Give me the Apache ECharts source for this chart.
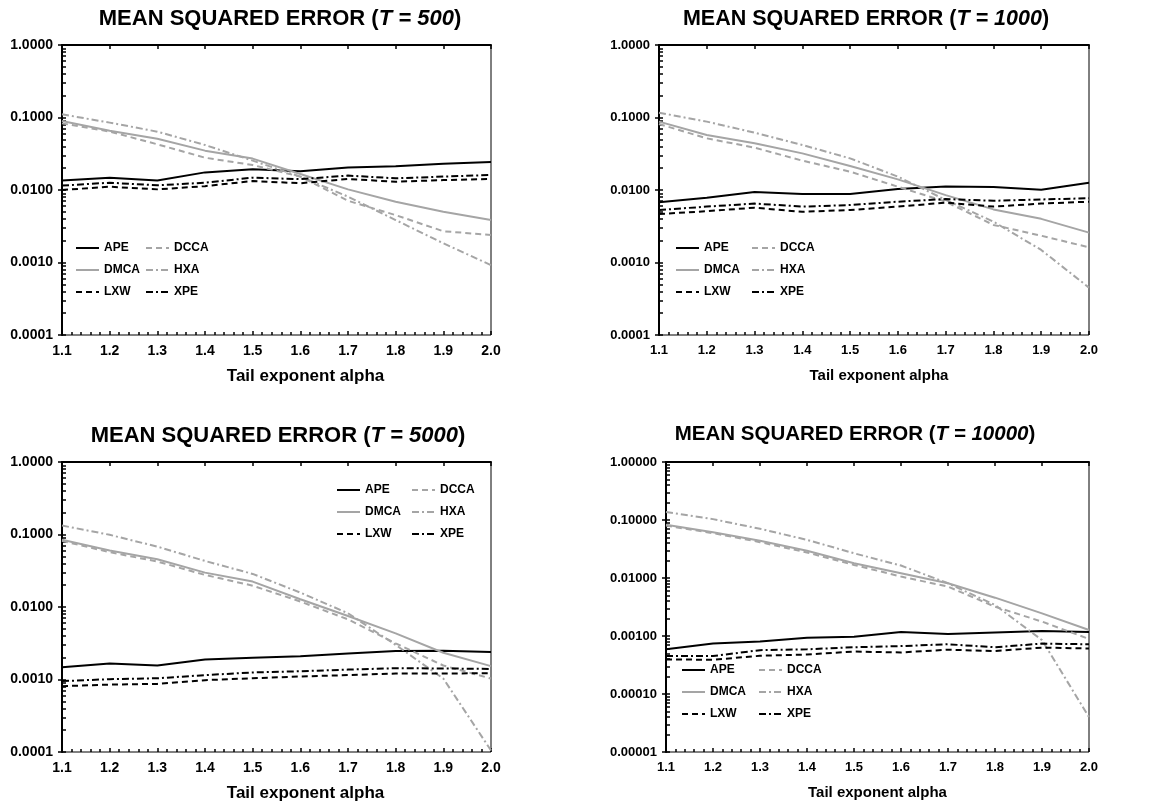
<!DOCTYPE html>
<html>
<head>
<meta charset="utf-8">
<script src="https://cdn.jsdelivr.net/npm/echarts@6/dist/echarts.min.js"></script>
<style>
  html, body { margin: 0; padding: 0; background: #fff; }
  #chart { width: 1159px; height: 805px; }
</style>
</head>
<body>
<div id="chart"></div>
<script>
// tail exponent alpha
const alpha = [1.1, 1.2, 1.3, 1.4, 1.5, 1.6, 1.7, 1.8, 1.9, 2.0];

// T = 500
const ape500  = [0.0135, 0.0148, 0.0135, 0.0175, 0.0193, 0.0181, 0.0205, 0.0212, 0.0231, 0.0243];
const dcca500 = [0.083, 0.064, 0.0427, 0.0279, 0.0221, 0.0153, 0.0071, 0.0045, 0.0027, 0.0024];
const dmca500 = [0.0895, 0.0658, 0.051, 0.0349, 0.0271, 0.0166, 0.0102, 0.0069, 0.0050, 0.00385];
const hxa500  = [0.1106, 0.085, 0.0638, 0.0418, 0.0254, 0.0153, 0.0081, 0.00385, 0.00184, 0.00092];
const lxw500  = [0.0100, 0.0111, 0.0102, 0.0113, 0.0133, 0.0124, 0.0142, 0.0130, 0.0137, 0.0142];
const xpe500  = [0.0115, 0.0126, 0.0116, 0.0126, 0.0148, 0.0141, 0.0158, 0.0145, 0.0153, 0.0161];

// T = 1000
const ape1000  = [0.00676, 0.0078, 0.0094, 0.0088, 0.0088, 0.0103, 0.0112, 0.0110, 0.0101, 0.0126];
const dcca1000 = [0.0813, 0.0516, 0.0384, 0.0254, 0.0179, 0.0111, 0.0069, 0.0033, 0.00234, 0.00162];
const dmca1000 = [0.0877, 0.0574, 0.044, 0.032, 0.0214, 0.014, 0.0085, 0.0054, 0.0040, 0.00258];
const hxa1000  = [0.1166, 0.0877, 0.0618, 0.0418, 0.0273, 0.0153, 0.0073, 0.00366, 0.00149, 0.00045];
const lxw1000  = [0.00467, 0.0051, 0.0057, 0.0050, 0.0053, 0.0059, 0.0067, 0.0059, 0.0065, 0.0069];
const xpe1000  = [0.0053, 0.0059, 0.0065, 0.0059, 0.0062, 0.0069, 0.0075, 0.0071, 0.0074, 0.0077];

// T = 5000
const ape5000  = [0.00147, 0.00166, 0.00156, 0.00189, 0.0020, 0.0021, 0.00229, 0.00247, 0.0025, 0.00239];
const dcca5000 = [0.0817, 0.057, 0.0424, 0.0277, 0.0197, 0.0119, 0.00675, 0.00315, 0.00156, 0.00103];
const dmca5000 = [0.0844, 0.060, 0.0456, 0.0298, 0.0224, 0.0128, 0.0075, 0.00433, 0.00234, 0.00153];
const hxa5000  = [0.133, 0.099, 0.068, 0.0432, 0.0286, 0.0158, 0.0082, 0.0030, 0.00103, 0.000105];
const lxw5000  = [0.00081, 0.00085, 0.00087, 0.00098, 0.00104, 0.0011, 0.00115, 0.00121, 0.00121, 0.00122];
const xpe5000  = [0.00095, 0.00101, 0.00104, 0.00115, 0.00125, 0.0013, 0.00137, 0.00143, 0.00142, 0.0014];

// T = 10000
const ape10000  = [0.00059, 0.00074, 0.0008, 0.00093, 0.00097, 0.00117, 0.00108, 0.00115, 0.00122, 0.00117];
const dcca10000 = [0.080, 0.0593, 0.0415, 0.0275, 0.0168, 0.0106, 0.0071, 0.0032, 0.00177, 0.00089];
const dmca10000 = [0.0826, 0.0617, 0.0437, 0.0294, 0.018, 0.0121, 0.0081, 0.00458, 0.00246, 0.00127];
const hxa10000  = [0.137, 0.1035, 0.0705, 0.0455, 0.0267, 0.0164, 0.0081, 0.00343, 0.00085, 0.00004];
const lxw10000  = [0.000394, 0.00039, 0.000456, 0.00048, 0.00054, 0.00052, 0.00058, 0.00055, 0.00063, 0.00061];
const xpe10000  = [0.00045, 0.00045, 0.00057, 0.00059, 0.00064, 0.00067, 0.00072, 0.00064, 0.00074, 0.00072];

const FONT = 'Arial, "Liberation Sans", sans-serif';
const GRAY = '#a5a5a5';
const DASH = [6, 4];
const DASHDOT = [7, 3, 2, 3];

const styles = {
  APE:  { color: '#000', type: 'solid' },
  DCCA: { color: GRAY, type: DASH },
  DMCA: { color: GRAY, type: 'solid' },
  HXA:  { color: GRAY, type: DASHDOT },
  LXW:  { color: '#000', type: DASH },
  XPE:  { color: '#000', type: DASHDOT }
};

const panels = [
  { T: '500', grid: { left: 62, top: 45, width: 429, height: 290 }, title: [275, 3, 22], decades: 4,
    legend: [75, 145, 242], namePad: 58, tick: 14, name: 17,
    data: { APE: ape500, DCCA: dcca500, DMCA: dmca500, HXA: hxa500, LXW: lxw500, XPE: xpe500 } },
  { T: '1000', grid: { left: 659, top: 45, width: 430, height: 290 }, title: [861, 3, 21.5], decades: 4,
    legend: [675, 751, 242], namePad: 10, tick: 13, name: 15,
    data: { APE: ape1000, DCCA: dcca1000, DMCA: dmca1000, HXA: hxa1000, LXW: lxw1000, XPE: xpe1000 } },
  { T: '5000', grid: { left: 62, top: 462, width: 429, height: 290 }, title: [273, 420, 22], decades: 4,
    legend: [336, 411, 484], namePad: 58, tick: 14, name: 17,
    data: { APE: ape5000, DCCA: dcca5000, DMCA: dmca5000, HXA: hxa5000, LXW: lxw5000, XPE: xpe5000 } },
  { T: '10000', grid: { left: 666, top: 462, width: 423, height: 290 }, title: [850, 419, 20.5], decades: 5,
    legend: [681, 758, 664], namePad: 0, tick: 13, name: 15,
    data: { APE: ape10000, DCCA: dcca10000, DMCA: dmca10000, HXA: hxa10000, LXW: lxw10000, XPE: xpe10000 } }
];

const option = {
  animation: false,
  backgroundColor: '#fff',
  textStyle: { fontFamily: FONT },
  title: [], grid: [], xAxis: [], yAxis: [], legend: [], series: []
};

panels.forEach((p, k) => {
  const digits = p.decades;
  const ts = p.title[2];
  option.title.push({
    text: '{b|MEAN SQUARED ERROR (}{i|T = ' + p.T + '}{b|)}',
    left: p.title[0], top: p.title[1], textAlign: 'center',
    textStyle: {
      rich: {
        b: { fontFamily: FONT, fontWeight: 'bold', fontSize: ts, color: '#000' },
        i: { fontFamily: FONT, fontWeight: 'bold', fontStyle: 'italic', fontSize: ts, color: '#000' }
      }
    }
  });
  option.grid.push(Object.assign({ show: true, borderColor: '#000', borderWidth: 1, backgroundColor: 'transparent' }, p.grid));

  // main x axis (labels + outside ticks)
  option.xAxis.push({
    type: 'value', gridIndex: k, min: 1.1, max: 2.0, interval: 0.1,
    name: 'Tail exponent alpha', nameLocation: 'middle', nameGap: 33,
    nameTextStyle: { fontFamily: FONT, fontWeight: 'bold', fontSize: p.name, color: '#000', padding: [0, 0, 0, p.namePad] },
    axisLine: { lineStyle: { color: '#000', width: 2 } },
    axisTick: { show: true, length: 4, lineStyle: { color: '#000', width: 1.5 } },
    axisLabel: { fontFamily: FONT, fontWeight: 'bold', fontSize: p.tick, color: '#000', margin: 9,
      formatter: v => v.toFixed(1) },
    splitLine: { show: false }
  });
  // helper x axis: inside ticks and minor ticks
  option.xAxis.push({
    type: 'value', gridIndex: k, min: 1.1, max: 2.0, interval: 0.1, position: 'bottom',
    axisLine: { show: false },
    axisTick: { show: true, inside: true, length: 4, lineStyle: { color: '#000', width: 1.5 } },
    minorTick: { show: true, splitNumber: 5, length: 3, lineStyle: { color: '#000', width: 1.5 } },
    axisLabel: { show: false },
    splitLine: { show: false }
  });

  // main log y axis
  option.yAxis.push({
    type: 'log', logBase: 10, gridIndex: k, min: Math.pow(10, -p.decades), max: 1, splitNumber: p.decades,
    axisLine: { show: true, lineStyle: { color: '#000', width: 2 } },
    axisTick: { show: true, length: 4, lineStyle: { color: '#000', width: 1.5 } },
    axisLabel: { fontFamily: FONT, fontWeight: 'bold', fontSize: p.tick, color: '#000', margin: 9,
      formatter: v => Number(v).toFixed(digits) },
    splitLine: { show: false }
  });
  // helper y axis in log10 units for the log-spaced minor ticks
  const minor = [];
  for (let e = -p.decades; e < 0; e++) {
    for (let m = 1; m <= 9; m++) minor.push(e + Math.log10(m));
  }
  minor.push(0);
  option.yAxis.push({
    type: 'value', gridIndex: k, min: -p.decades, max: 0, position: 'left',
    axisLine: { show: false },
    axisTick: { show: true, inside: true, length: 4, customValues: minor, lineStyle: { color: '#000', width: 1.5 } },
    axisLabel: { show: false },
    splitLine: { show: false }
  });

  const names = ['APE', 'DCCA', 'DMCA', 'HXA', 'LXW', 'XPE'];
  names.forEach(n => {
    option.series.push({
      name: n, type: 'line', xAxisIndex: 2 * k, yAxisIndex: 2 * k,
      symbol: 'none', smooth: false, silent: true,
      lineStyle: { color: styles[n].color, type: styles[n].type, width: 2 },
      itemStyle: { color: styles[n].color },
      data: alpha.map((a, i) => [a, p.data[n][i]])
    });
  });

  const legendBase = {
    orient: 'vertical', top: p.legend[2], itemWidth: 23, itemHeight: 14, itemGap: 10,
    padding: 0, selectedMode: false,
    itemStyle: { opacity: 0 },
    textStyle: { fontFamily: FONT, fontWeight: 'bold', fontSize: 12, color: '#000' }
  };
  option.legend.push(Object.assign({ left: p.legend[0], data: ['APE', 'DMCA', 'LXW'] }, legendBase));
  option.legend.push(Object.assign({ left: p.legend[1], data: ['DCCA', 'HXA', 'XPE'] }, legendBase));
});

const chart = echarts.init(document.getElementById('chart'));
chart.setOption(option);
window.addEventListener('resize', function () {
  chart.resize();
});
</script>
</body>
</html>
